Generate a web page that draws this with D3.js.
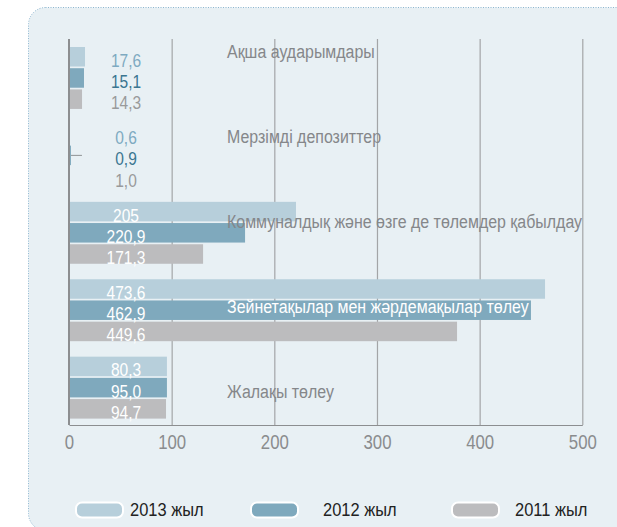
<!DOCTYPE html>
<meta charset="utf-8">
<style>
  body { margin: 0; background: #fff; }
  svg text { font-family: "Liberation Sans", Arial, sans-serif; }
</style>
<svg width="617" height="527"></svg>
<script src="https://d3js.org/d3.v7.min.js"></script>
<script>

    // categories, top to bottom
    var categories = [
        "Ақша аударымдары",
        "Мерзімді депозиттер",
        "Коммуналдық және өзге де төлемдер қабылдау",
        "Зейнетақылар мен жәрдемақылар төлеу",
        "Жалақы төлеу"
    ];
    var years = ["2013 жыл", "2012 жыл", "2011 жыл"];

    // bar lengths as drawn in the picture
    var bars2013 = [15.6, 0.5, 221.1, 463.7, 95.4];
    var bars2012 = [14.6, 1.9, 171.5, 450.0, 95.4];
    var bars2011 = [12.7, 0.4, 130.6, 378.0, 94.5];

    // printed value labels
    var labels2013 = ["17,6", "0,6", "205", "473,6", "80,3"];
    var labels2012 = ["15,1", "0,9", "220,9", "462,9", "95,0"];
    var labels2011 = ["14,3", "1,0", "171,3", "449,6", "94,7"];

    var xTicks = [0, 100, 200, 300, 400, 500];

    /* --------------------
     Setup
   -------------------- */
    var svg = d3.select("svg");

    var colors = ["#b7cfdb", "#7fa9bd", "#bcbcbe"];
    var labelColors = ["#7eaac1", "#3b7691", "#999a9b"];
    var narrow = 0.84;   // the original face is a condensed one

    var x = d3.scaleLinear().domain([0, 500]).range([69, 582.3]);
    var y = d3.scaleBand().domain(categories).range([47, 418.6]).paddingInner(0.2).paddingOuter(0);
    var yInner = d3.scaleBand().domain(years).range([0, y.bandwidth()]).paddingInner(0.08);
    var yLabel = d3.scalePoint().domain(categories).range([52, 392]);

    var plotTop = 39, plotBottom = 425;

    function squeeze(px, py, s) {
        return "translate(" + px + "," + py + ") scale(" + (s || narrow) + ",1)";
    }

    // panel
    svg.append("rect")
        .attr("x", 28.5).attr("y", 7.5)
        .attr("width", 640).attr("height", 523)
        .attr("rx", 17).attr("ry", 17)
        .attr("fill", "#e8f0f4")
        .attr("stroke", "#8db6d0")
        .attr("stroke-width", 1)
        .attr("stroke-dasharray", "1,1.5");

    // grid lines
    svg.append("g")
        .attr("transform", "translate(0," + plotBottom + ")")
        .call(d3.axisBottom(x).tickValues(xTicks.slice(1)).tickSize(-(plotBottom - plotTop)).tickFormat(""))
        .call(function(g) {
            g.select(".domain").remove();
            g.selectAll("line").attr("stroke", "#a3a5a7").attr("stroke-width", 1.2);
        });

    // bars
    var rows = [];
    categories.forEach(function(c, i) {
        rows.push({cat: c, year: years[0], v: bars2013[i], label: labels2013[i], k: 0, i: i});
        rows.push({cat: c, year: years[1], v: bars2012[i], label: labels2012[i], k: 1, i: i});
        rows.push({cat: c, year: years[2], v: bars2011[i], label: labels2011[i], k: 2, i: i});
    });

    svg.append("g").selectAll("rect")
        .data(rows)
        .enter().append("rect")
        .attr("x", x(0))
        .attr("y", function(d) { return y(d.cat) + yInner(d.year); })
        .attr("width", function(d) { return x(d.v) - x(0); })
        .attr("height", yInner.bandwidth())
        .attr("fill", function(d) { return colors[d.k]; });

    // small leader line on the deposits bar
    var leadY = y(categories[1]) + yInner(years[1]) + yInner.bandwidth() / 2;
    svg.append("line")
        .attr("x1", x(bars2012[1])).attr("x2", x(bars2012[1]) + 11)
        .attr("y1", leadY).attr("y2", leadY)
        .attr("stroke", "#8f9294").attr("stroke-width", 1);

    // left axis line
    svg.append("line")
        .attr("x1", x(0)).attr("x2", x(0))
        .attr("y1", plotTop).attr("y2", plotBottom)
        .attr("stroke", "#8c8e90").attr("stroke-width", 2);

    // bottom axis
    svg.append("g")
        .attr("transform", "translate(0," + plotBottom + ")")
        .call(d3.axisBottom(x).tickValues(xTicks).tickSize(0).tickPadding(10).tickSizeOuter(0))
        .call(function(g) {
            g.select(".domain").attr("stroke", "#8c8e90");
            g.selectAll("text")
                .attr("fill", "#8a8c8e")
                .attr("transform", "scale(" + narrow + ",1)")
                .style("font-size", "20px")
                .style("font-family", '"Liberation Sans", Arial, sans-serif');
        });

    // value labels
    svg.append("g").selectAll("text")
        .data(rows)
        .enter().append("text")
        .attr("transform", function(d) {
            return squeeze(126, y(d.cat) + yInner(d.year) + yInner.bandwidth() / 2 + 4);
        })
        .attr("text-anchor", "middle")
        .attr("dominant-baseline", "central")
        .attr("fill", function(d) { return d.i < 2 ? labelColors[d.k] : "#fff"; })
        .style("font-size", "18.5px")
        .text(function(d) { return d.label; });

    // category labels
    svg.append("g").selectAll("text")
        .data(categories)
        .enter().append("text")
        .attr("transform", function(d) { return squeeze(227, yLabel(d)); })
        .attr("dominant-baseline", "central")
        .attr("fill", function(d, i) { return i === 3 ? "#fff" : "#85878a"; })
        .style("font-size", "19px")
        .text(function(d) { return d; });

    // legend
    var legendSwatchX = [76, 251, 452],
        legendTextX = [130, 323, 515];

    var legend = svg.append("g").selectAll("g")
        .data(years)
        .enter().append("g");

    legend.append("rect")
        .attr("x", function(d, i) { return legendSwatchX[i]; })
        .attr("y", 502.5)
        .attr("width", 47).attr("height", 15)
        .attr("rx", 6).attr("ry", 6)
        .attr("fill", function(d, i) { return colors[i]; })
        .attr("stroke", "#fff").attr("stroke-width", 2);

    legend.append("text")
        .attr("transform", function(d, i) { return squeeze(legendTextX[i], 510, 0.94); })
        .attr("dominant-baseline", "central")
        .attr("fill", "#222")
        .style("font-size", "17.5px")
        .text(function(d) { return d; });

</script>
